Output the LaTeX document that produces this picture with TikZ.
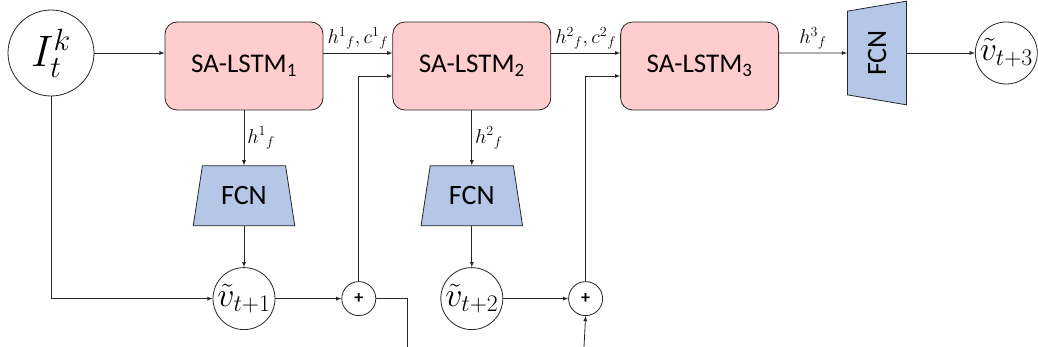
\RequirePackage{fix-cm}
\documentclass[tikz,border=0pt]{standalone}
\usepackage{fontspec}
\setsansfont{Carlito}
\usetikzlibrary{positioning}
\usetikzlibrary{shapes.geometric}

\definecolor{lstmpink}{RGB}{255,205,206}
\definecolor{fcnblue}{RGB}{180,199,231}

\begin{document}
\begin{tikzpicture}[x=1pt, y=-1pt, >=latex, line width=0.8pt, draw=black!85,
  lstm/.style={draw, rectangle, rounded corners=12pt, minimum width=158pt, minimum height=88pt, fill=lstmpink, font=\sffamily\fontsize{27}{30}\selectfont},
  fcn/.style={draw, trapezium, trapezium stretches=true, trapezium angle=77, minimum width=102pt, minimum height=60pt, fill=fcnblue, font=\sffamily\fontsize{28}{30}\selectfont},
  vcirc/.style={draw, circle, inner sep=0pt, minimum size=62pt, font=\fontsize{34}{34}\selectfont},
  adder/.style={draw, circle, inner sep=0pt, minimum size=34pt, font=\sffamily\bfseries\fontsize{18}{18}\selectfont},
  lbl/.style={font=\fontsize{20}{20}\selectfont, inner sep=3pt}]

  \useasboundingbox (0,0) rectangle (1038,347);

  % Input frame

  \node[draw, circle, inner sep=0pt, minimum size=86pt, font=\fontsize{44}{44}\selectfont] (ik) at (51,53) {$I_t^k$};

  % LSTM stack

  \node[lstm] (lstm1) at (244,66) {SA-LSTM\textsubscript{1}};
  \node[lstm, right=69pt of lstm1] (lstm2) {SA-LSTM\textsubscript{2}};
  \node[lstm, right=69pt of lstm2] (lstm3) {SA-LSTM\textsubscript{3}};

  % Per-step heads

  \node[fcn, below=55pt of lstm1] (fcn1) {FCN};
  \node[vcirc, below=41pt of fcn1] (v1) {$\tilde{v}_{t+1}$};
  \node[adder, right=66pt of v1] (add1) {+};

  \node[fcn, below=55pt of lstm2] (fcn2) {FCN};
  \node[vcirc, below=41pt of fcn2] (v2) {$\tilde{v}_{t+2}$};
  \node[adder, right=65pt of v2] (add2) {+};

  % Last head, turned on its side
  \node[fcn, rotate=90, trapezium angle=76, minimum width=104pt, minimum height=59pt] (fcn3) at (877,53) {FCN};
  \node[vcirc, right=68pt of fcn3.south] (v3) {$\tilde{v}_{t+3}$};

  \coordinate (out1) at (407,347);
  \coordinate (in2) at (584,347);

  % Connections
  \draw[->] (ik.east) -- (ik.east -| lstm1.west);
  \draw[->] ([yshift=13pt]lstm1.east) -- node[lbl, above] {$h^{1}{}_{f}, c^{1}{}_{f}$} ([yshift=13pt]lstm2.west);
  \draw[->] ([yshift=13pt]lstm2.east) -- node[lbl, above] {$h^{2}{}_{f}, c^{2}{}_{f}$} ([yshift=13pt]lstm3.west);
  \draw[->] ([yshift=13pt]lstm3.east) -- node[lbl, above] {$h^{3}{}_{f}$} (fcn3.north);
  \draw[->] (fcn3.south) -- (v3);

  \draw[->] (lstm1.south) -- node[lbl, right] {$h^{1}{}_{f}$} (fcn1.north);
  \draw[->] (fcn1.south) -- (v1.north);
  \draw[->] (ik.south) |- (v1.west);
  \draw[->] (v1.east) -- (add1.west);
  \draw[->] (add1.north) |- ([yshift=-10pt]lstm2.west);
  \draw (add1.east) -| (out1);

  \draw[->] (lstm2.south) -- node[lbl, right] {$h^{2}{}_{f}$} (fcn2.north);
  \draw[->] (fcn2.south) -- (v2.north);
  \draw[->] (v2.east) -- (add2.west);
  \draw[->] (add2.north) |- ([yshift=-10pt]lstm3.west);
  \draw[->] (in2) -- (add2.south);

\end{tikzpicture}
\end{document}
